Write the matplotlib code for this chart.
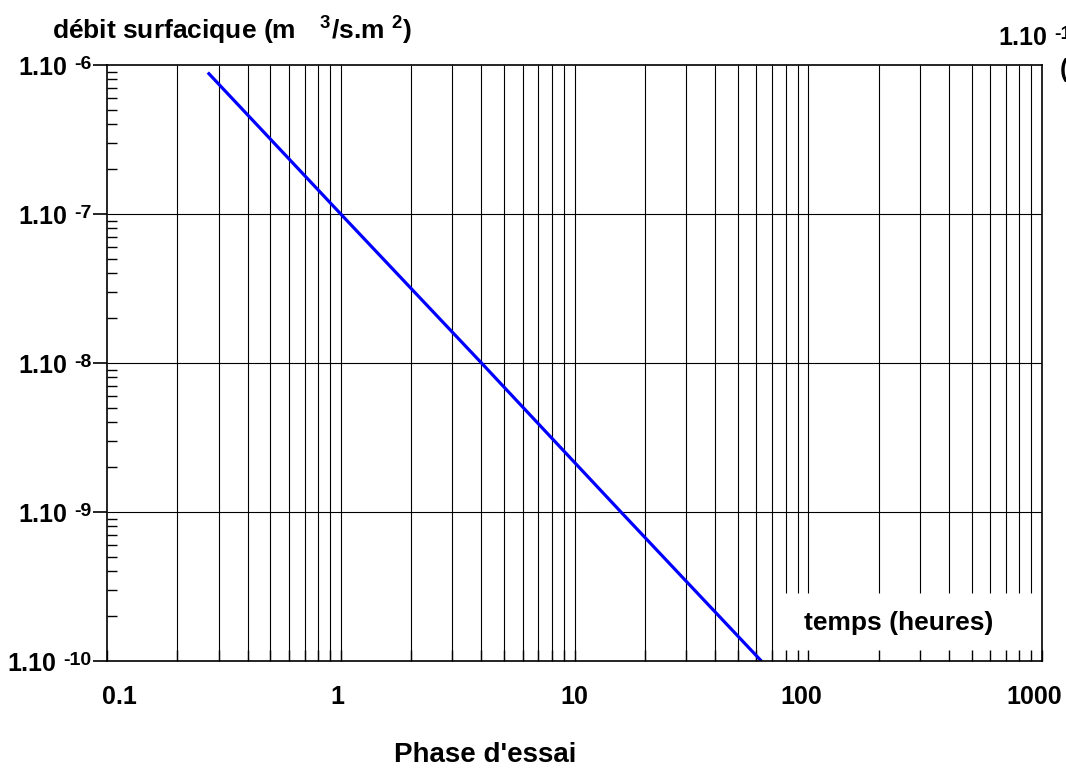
import matplotlib
matplotlib.use("Agg")
import matplotlib.pyplot as plt
import matplotlib.transforms as mtransforms
from matplotlib.offsetbox import AnnotationBbox, HPacker, TextArea
from matplotlib.ticker import FixedLocator, NullFormatter
import numpy as np

plt.rcParams["font.family"] = ["Liberation Sans", "DejaVu Sans"]
plt.rcParams["mathtext.fontset"] = "custom"
plt.rcParams["mathtext.rm"] = "Liberation Sans:bold"
plt.rcParams["mathtext.bf"] = "Liberation Sans:bold"

# data (time in hours, flow in m3/s.m2)
time_h = [0.27, 1.0, 4.0, 15.8, 63.0]
flow = [8.9e-7, 1e-7, 1e-8, 1e-9, 1e-10]

x_ticks = [0.1, 1, 10, 100, 1000]
x_labels = ["0.1", "1", "10", "100", "1000"]
y_ticks = [1e-10, 1e-9, 1e-8, 1e-7, 1e-6]
y_exps = ["-10", "-9", "-8", "-7", "-6"]

# area kept free of grid lines for the axis caption
box_x = (76.0, 1000.0)
box_ytop = 2.86e-10


def power_label(main, sup, size=18, sup_size=14):
    txt = TextArea(main, textprops=dict(fontsize=size, fontweight="bold"))
    exp = TextArea(sup, textprops=dict(fontsize=sup_size, fontweight="bold"))
    return HPacker(children=[txt, exp], align="top", pad=0, sep=5)


fig = plt.figure(figsize=(10.66, 7.71), dpi=100)
ax = fig.add_axes([107 / 1066, 1 - 661 / 771, 935 / 1066, 596 / 771])
ax.set_xscale("log")
ax.set_yscale("log")
ax.set_xlim(0.1, 1000)
ax.set_ylim(1e-10, 1e-6)

# vertical grid (decades + minor), stopping at the caption box
xs_grid = []
for d in range(-1, 3):
    for m in range(1, 10):
        v = m * 10.0 ** d
        if 0.1 < v < 1000:
            xs_grid.append(v)
xs_grid = np.array(xs_grid)
low = np.where(xs_grid >= box_x[0], box_ytop, 1e-10)
ax.vlines(xs_grid, low, 1e-6, colors="black", linewidth=0.8, zorder=1)
ax.hlines(y_ticks[1:-1], 0.1, 1000, colors="black", linewidth=0.8, zorder=1)

ax.plot(time_h, flow, color="#0000ff", linewidth=2.3, zorder=3, solid_capstyle="butt")

for s in ax.spines.values():
    s.set_linewidth(1.2)
    s.set_color("black")
    s.set_zorder(4)

# y axis ticks, labels drawn as "1.10" + raised exponent
ax.yaxis.set_major_locator(FixedLocator(y_ticks))
ax.yaxis.set_major_formatter(NullFormatter())
ax.yaxis.set_minor_formatter(NullFormatter())
ax.tick_params(axis="y", which="major", direction="out", length=10, width=1.2)
ax.tick_params(axis="y", which="minor", direction="in", length=7, width=1.0)
for yv, e in zip(y_ticks, y_exps):
    ab = AnnotationBbox(power_label("1.10", e), (0, yv), xycoords=("axes fraction", "data"),
                        xybox=(-11, -2), boxcoords="offset points", box_alignment=(1, 0.5),
                        frameon=False, annotation_clip=False)
    ax.add_artist(ab)

# x axis ticks
ax.xaxis.set_major_locator(FixedLocator(x_ticks))
ax.set_xticklabels(x_labels)
ax.xaxis.set_minor_formatter(NullFormatter())
ax.tick_params(axis="x", which="both", direction="in", length=8, width=1.0,
               labelsize=18, pad=17)
for lab in ax.get_xticklabels():
    lab.set_fontweight("bold")
shifts = [12, -3, 0, -7, -8]
for lab, dx in zip(ax.get_xticklabels(), shifts):
    lab.set_transform(lab.get_transform() + mtransforms.ScaledTranslation(dx / 100, 0, fig.dpi_scale_trans))

ax.text(244, 1.8e-10, "temps (heures)", fontsize=19,
        fontweight="bold", ha="center", va="center", zorder=5)

fig.text(52 / 1066, 1 - 30 / 771,
         r"débit surfacique (m $\ \ ^{\mathbf{3}}$/s.m $^{\mathbf{2}}$)",
         fontsize=19, fontweight="bold", ha="left", va="center")
fig.text(485 / 1066, 1 - 755 / 771, "Phase d'essai", fontsize=20, fontweight="bold",
         ha="center", va="center")
# labels of the neighbouring chart, cut by the right edge
ab = AnnotationBbox(power_label("1.10", "-1"), (998 / 1066, 1 - 38 / 771),
                    xycoords="figure fraction", box_alignment=(0, 0.5),
                    frameon=False, annotation_clip=False)
fig.add_artist(ab)
fig.text(1060 / 1066, 1 - 70 / 771, "(", fontsize=18, fontweight="bold",
         ha="left", va="center")

fig.savefig("out.png", dpi=100)
